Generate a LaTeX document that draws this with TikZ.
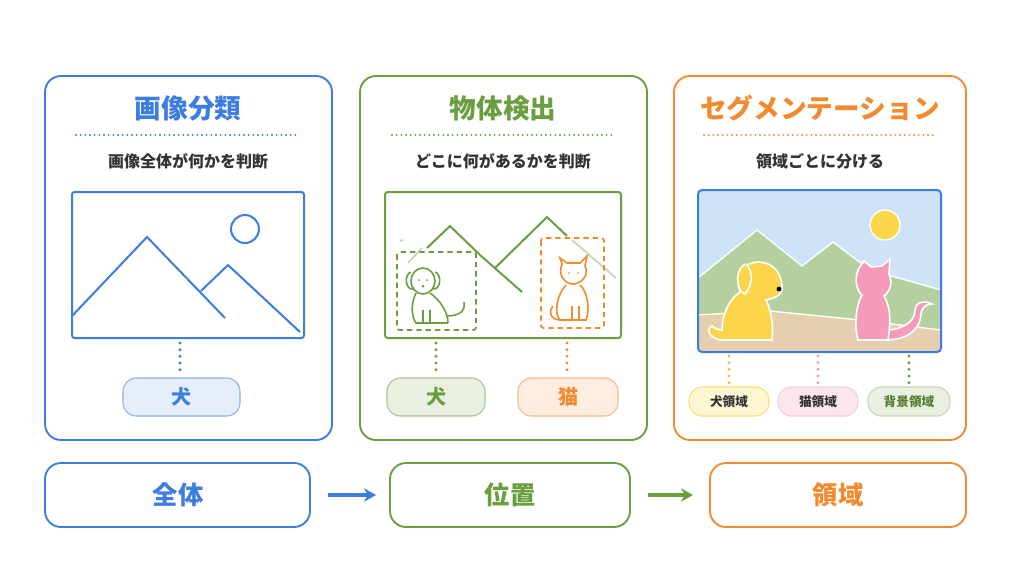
\documentclass[tikz,border=0pt]{standalone}
\usepackage{fontspec}
\setmainfont{Noto Sans CJK JP}
\usetikzlibrary{arrows.meta}
\definecolor{cb}{HTML}{3B7DE0}\definecolor{cg}{HTML}{6A9E3F}\definecolor{co}{HTML}{F28A2E}
\definecolor{sky}{HTML}{CFE3F8}\definecolor{mt}{HTML}{B5CF9E}\definecolor{gr}{HTML}{E5CFAE}
\definecolor{yl}{HTML}{FBD64A}\definecolor{pk}{HTML}{F59AB8}\definecolor{tx}{HTML}{333333}
\begin{document}
\begin{tikzpicture}[x=0.75pt,y=-0.75pt,
 panel/.style={rounded corners=12pt,line width=1.4pt},
 pill/.style={rounded corners=10pt,line width=0.8pt},
 title/.style={font=\bfseries\fontsize{20}{22}\selectfont},
 sub/.style={font=\bfseries\fontsize{12}{14}\selectfont,text=tx},
 plab/.style={font=\bfseries\fontsize{15}{17}\selectfont},
 slab/.style={font=\bfseries\fontsize{9.5}{11}\selectfont,text=tx},
 blab/.style={font=\bfseries\fontsize{19}{21}\selectfont},
 dots/.style={line width=2.4pt,dash pattern=on 0pt off 5pt,line cap=round},
 tdots/.style={line width=1.6pt,dash pattern=on 0pt off 3.5pt,line cap=round}]
\useasboundingbox (0,0) rectangle (1024,576);
\fill[white] (0,0) rectangle (1024,576);
% panel 1
\draw[panel,cb] (45,76) rectangle (332,440);
\node[title,text=cb] (t1) at (188,108) {画像分類};
\draw[tdots,cb] (76,135) -- (298,135);
\node[sub] (s1) at (188,161) {画像全体が何かを判断};
\draw[cb,line width=1.5pt,rounded corners=2pt] (72,192) rectangle (304,338);
\draw[cb,line width=1.5pt] (72,316) -- (147,237) -- (225,318);
\draw[cb,line width=1.5pt] (201,291) -- (228,265) -- (300,332);
\draw[cb,line width=1.5pt] (245,229) circle (14);
\draw[dots,cb] (180,343) -- (180,373);
\draw[pill,draw=cb!60,fill=cb!13] (123,378) rectangle (240,416);
\node[plab,text=cb] (p1) at (181,397) {犬};
% panel 2
\draw[panel,cg] (360,76) rectangle (647,440);
\node[title,text=cg] (t2) at (503,108) {物体検出};
\draw[tdots,cg] (392,135) -- (616,135);
\node[sub] (s2) at (503,161) {どこに何があるかを判断};
\draw[cg,line width=1.5pt,rounded corners=2pt] (385,192) rectangle (621,338);
\draw[cg!40,line width=1.3pt] (400,241)--(403,240) (408,263)--(422,248);
\draw[cg,line width=1.5pt] (427,248) -- (450,226) -- (480,255);
\draw[cg,line width=1.5pt] (480,255) -- (522,292);
\draw[cg,line width=1.5pt] (495,268) -- (547,217) -- (567,236);
\draw[cg!40,line width=1.3pt] (572,240) -- (616,278);
\draw[cg,line width=1.3pt,dash pattern=on 4pt off 3pt,rounded corners=2pt] (397,252) rectangle (476,330);
\draw[co,line width=1.3pt,dash pattern=on 4pt off 3pt,rounded corners=2pt] (541,238) rectangle (604,328);
% dog outline
\begin{scope}[cg,line width=1.2pt]
\draw (423,281) circle[x radius=12,y radius=13];
\draw (411,272) .. controls (404,274) and (405,290) .. (413,289);
\draw (435,272) .. controls (442,274) and (441,290) .. (433,289);
\draw (416,293) .. controls (410,305) and (412,318) .. (416,323) -- (448,323);
\draw (430,293) .. controls (440,300) and (448,312) .. (448,323);
\draw (446,316) .. controls (458,316) and (466,312) .. (464,302);
\draw (423,310) -- (423,323) (430,310) -- (430,323);
\fill (419,280) circle (1) (427,280) circle (1) (423,286) circle (1.5);
\end{scope}
% cat outline
\begin{scope}[co,line width=1.2pt]
\draw (562,264) -- (560,258) -- (567,263) -- (580,263) -- (587,256) -- (585,266)
 .. controls (590,276) and (580,284) .. (573,284) .. controls (566,284) and (557,276) .. (562,264);
\draw (566,285) .. controls (556,296) and (554,314) .. (560,320) -- (586,320) .. controls (590,310) and (588,292) .. (580,285);
\draw (560,320) .. controls (550,320) and (548,310) .. (553,306);
\draw (572,306) -- (572,320) (579,306) -- (579,320);
\fill (569,273) circle (0.9) (578,273) circle (0.9);
\end{scope}
\draw[dots,cg] (436,343) -- (436,373);
\draw[dots,co] (567,343) -- (567,373);
\draw[pill,draw=cg!60,fill=cg!15] (387,378) rectangle (485,416);
\node[plab,text=cg] (p2) at (436,397) {犬};
\draw[pill,draw=co!60,fill=co!15] (518,378) rectangle (618,416);
\node[plab,text=co] (p3) at (568,397) {猫};
% panel 3
\draw[panel,co] (674,76) rectangle (966,440);
\node[title,text=co] (t3) at (820,108) {セグメンテーション};
\draw[tdots,co] (704,135) -- (936,135);
\node[sub] (s3) at (820,161) {領域ごとに分ける};
\begin{scope}
\clip[rounded corners=3pt] (698,190) rectangle (941,352);
\fill[sky] (698,190) rectangle (941,352);
\fill[mt,draw=white,line width=1pt] (698,278) -- (757,230) -- (802,266) -- (833,242) -- (870,270) -- (941,290) -- (941,360) -- (698,360) -- cycle;
\fill[gr,draw=white,line width=1pt] (698,315) -- (770,311) -- (860,320) -- (941,330) -- (941,360) -- (698,360) -- cycle;
\fill[yl,draw=white,line width=1pt] (885,225) circle (15);
% dog
\begin{scope}[fill=yl,draw=white,line width=1.2pt]
\filldraw (712,326) .. controls (704,330) and (712,340) .. (722,340) -- (772,340) .. controls (774,322) and (770,308) .. (766,300)
 .. controls (774,298) and (782,296) .. (782,288) .. controls (782,272) and (772,262) .. (758,262)
 .. controls (744,262) and (736,274) .. (740,292) .. controls (728,300) and (722,316) .. (722,330) .. controls (718,330) and (714,328) .. (712,326) -- cycle;
\filldraw (746,264) .. controls (736,266) and (734,290) .. (745,294) .. controls (752,286) and (754,272) .. (746,264);
\end{scope}
\fill[black] (779,289) circle (2.4);
% cat
\begin{scope}[fill=pk,draw=white,line width=1.2pt]
\filldraw (886,330) .. controls (902,330) and (915,322) .. (915,310) .. controls (915,302) and (925,300) .. (932,304)
 .. controls (924,304) and (921,310) .. (921,314) .. controls (920,332) and (904,340) .. (886,340) -- cycle;
\filldraw (859,268) -- (864,261) -- (871,267) -- (882,266) -- (890,259) -- (889,274)
 .. controls (894,285) and (888,293) .. (884,296) .. controls (892,310) and (890,325) .. (888,340)
 -- (858,340) .. controls (854,325) and (856,305) .. (862,295) .. controls (856,290) and (854,278) .. (859,268);
\end{scope}
\end{scope}
\draw[cb,line width=1.5pt,rounded corners=3pt] (698,190) rectangle (941,352);
\draw[dots,yl!90!black] (729,356) -- (729,383);
\draw[dots,pk] (818,356) -- (818,383);
\draw[dots,cg] (909,356) -- (909,383);
\draw[pill,draw=yl!80,fill=yl!25] (689,387) rectangle (769,416);
\node[slab] (q1) at (729,401.5) {犬領域};
\draw[pill,draw=pk!50,fill=pk!25] (778,387) rectangle (858,416);
\node[slab] (q2) at (818,401.5) {猫領域};
\draw[pill,draw=cg!40,fill=cg!15] (868,387) rectangle (950,416);
\node[slab,text=cg!80!black] (q3) at (909,401.5) {背景領域};
% bottom
\draw[panel,cb] (45,463) rectangle (310,527);
\node[blab,text=cb] (b1) at (178,495) {全体};
\draw[panel,cg] (390,463) rectangle (630,527);
\node[blab,text=cg] (b2) at (510,495) {位置};
\draw[panel,co] (710,463) rectangle (966,527);
\node[blab,text=co] (b3) at (838,495) {領域};
\coordinate (a1) at (328,495);
\coordinate (a2) at (648,495);
\draw[cb,line width=3pt,-{Stealth[length=9pt,width=10pt]}] (a1) -- (376,495);
\draw[cg,line width=3pt,-{Stealth[length=9pt,width=10pt]}] (a2) -- (693,495);
\end{tikzpicture}
\end{document}
